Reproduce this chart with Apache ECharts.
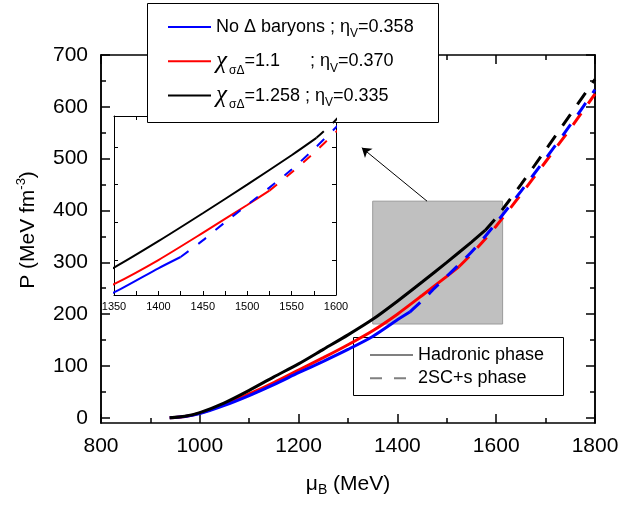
<!DOCTYPE html>
<html><head><meta charset="utf-8">
<script src="https://cdn.jsdelivr.net/npm/echarts@6/dist/echarts.min.js"></script>
<style>html,body{margin:0;padding:0;background:#fff}#c{width:622px;height:508px}</style>
</head><body><div id="c"></div>
<script>
// ---- data: [mu_B (MeV), P (MeV fm^-3)] ----
const noDeltaHadronic = [[939,0],[970,2.5],[1000,8],[1050,24],[1100,43],[1150,64],[1200,87],[1250,109],[1300,132],[1350,157],[1400,189],[1425,204]];
const noDelta2SC = [[1425,204],[1450,226],[1475,250],[1500,273],[1525,296],[1550,320],[1575,347],[1600,376],[1650,437],[1700,500],[1750,565],[1800,633]];
const x11Hadronic = [[939,0],[970,2.5],[1000,9],[1050,26],[1100,46],[1150,68],[1200,92],[1250,116],[1300,141],[1350,168],[1400,200],[1450,236],[1500,273],[1525,292]];
const x112SC = [[1525,292],[1550,316],[1575,342],[1600,370],[1650,431],[1700,494],[1750,558],[1800,625]];
const x1258Hadronic = [[939,0],[970,3],[1000,10],[1050,29],[1100,53],[1150,79],[1200,104],[1250,132],[1300,160],[1350,190],[1400,225],[1450,262],[1500,300],[1550,339],[1578,362]];
const x12582SC = [[1578,362],[1600,386],[1650,450],[1700,517],[1750,585],[1800,653]];

const yMajorTicks = [0,100,200,300,400,500,600,700];
const yMinorTicks = [50,150,250,350,450,550,650];
const insetYTicks = [200,250,300,350];
const zoomBox = [[1350,181],[1613,418]];
const arrowLine = [[1460,418],[1328,521]];

const legendLabels = {
  noDelta: '{t|No Δ baryons ; η}{s|V}{t|=0.358}',
  x11: '{c|χ}{g|σΔ}{t|=1.1      ; η}{s|V}{t|=0.370}',
  x1258: '{c|χ}{g|σΔ}{t|=1.258 ; η}{s|V}{t|=0.335}'
};
const phaseNames = ['Hadronic phase','2SC+s phase'];

const FONT = '"Liberation Sans", Arial, sans-serif';
const models = [
  {key:'x11', color:'#ff0000', had:x11Hadronic, sc:x112SC},
  {key:'noDelta', color:'#0000ff', had:noDeltaHadronic, sc:noDelta2SC},
  {key:'x1258', color:'#000000', had:x1258Hadronic, sc:x12582SC}
];

function lineSeries(name, data, color, dashed, inset) {
  return {
    type:'line', name:name, data:data,
    xAxisIndex: inset ? 2 : 0, yAxisIndex: inset ? 2 : 0,
    symbol:'none', showSymbol:false, smooth:0.25, clip:true, silent:true,
    lineStyle:{color:color, width: inset ? 2 : 3, type: dashed ? (inset ? [10,12] : [14,12]) : 'solid'},
    itemStyle:{color:color}, z:3
  };
}
const series = [];
models.forEach(m => {
  series.push(lineSeries(m.key, m.had, m.color, false, false));
  series.push(lineSeries(m.key, m.sc, m.color, true, false));
});
models.forEach(m => {
  series.push(lineSeries(m.key, m.had, m.color, false, true));
  series.push(lineSeries(m.key, m.sc, m.color, true, true));
});
series.push({type:'line', name:phaseNames[0], data:[], symbol:'none', lineStyle:{color:'#808080', width:3, type:'solid'}, itemStyle:{color:'#808080'}});
series.push({type:'line', name:phaseNames[1], data:[], symbol:'none', lineStyle:{color:'#808080', width:3, type:[12,12]}, itemStyle:{color:'#808080'}});
// zoom box + arrow annotation
series.push({
  type:'line', name:'zoomMarker', data:[zoomBox[0]], symbol:'none', showSymbol:false, z:1, silent:true,
  lineStyle:{opacity:0},
  markArea:{silent:true, itemStyle:{color:'#c0c0c0', borderColor:'#9a9a9a', borderWidth:1},
    data:[[{coord:zoomBox[0]},{coord:zoomBox[1]}]]},
  markLine:{silent:true, symbol:['none','arrow'], symbolSize:9, label:{show:false},
    lineStyle:{color:'#000', width:1, type:'solid'},
    data:[[{coord:arrowLine[0]},{coord:arrowLine[1]}]]}
});

const axisLineStyle = {color:'#000', width:1.5};
const tickStyle = {color:'#000', width:1.5};
const thin = {color:'#000', width:1};
const plain = v => String(v);

const option = {
  animation:false,
  grid:[
    {left:101, right:27, top:55, bottom:85},
    {left:114, top:116, width:222, height:179},
    {left:101, right:27, top:55, bottom:85}
  ],
  xAxis:[
    {type:'value', gridIndex:0, position:'bottom', min:800, max:1800, interval:200,
     axisLine:{onZero:false, lineStyle:axisLineStyle},
     axisTick:{inside:true, length:9, lineStyle:tickStyle},
     minorTick:{show:true, splitNumber:2, length:5, lineStyle:tickStyle},
     splitLine:{show:false}, minorSplitLine:{show:false},
     axisLabel:{color:'#000', fontSize:21, fontFamily:FONT, margin:13, formatter:plain},
     name:'{a|μ}{b|B}{a| (MeV)}', nameLocation:'middle', nameGap:48,
     nameTextStyle:{rich:{
       a:{fontSize:21, fontFamily:FONT, color:'#000', lineHeight:26},
       b:{fontSize:14, fontFamily:FONT, color:'#000', lineHeight:26, padding:[12,0,0,0]}}}},
    {type:'value', gridIndex:0, position:'top', min:800, max:1800, interval:200,
     axisLine:{onZero:false, lineStyle:axisLineStyle},
     axisTick:{inside:true, length:9, lineStyle:tickStyle},
     minorTick:{show:true, splitNumber:2, length:5, lineStyle:tickStyle},
     splitLine:{show:false}, axisLabel:{show:false}},
    {type:'value', gridIndex:1, position:'bottom', min:1350, max:1600, interval:50,
     axisLine:{onZero:false, lineStyle:thin},
     axisTick:{inside:true, length:4, lineStyle:thin},
     minorTick:{show:true, splitNumber:2, length:4, lineStyle:thin},
     splitLine:{show:false}, minorSplitLine:{show:false},
     axisLabel:{color:'#000', fontSize:11, fontFamily:FONT, margin:6, formatter:plain}},
    {type:'value', gridIndex:1, position:'top', min:1350, max:1600, interval:50,
     axisLine:{onZero:false, lineStyle:thin},
     axisTick:{inside:true, length:4, lineStyle:thin},
     minorTick:{show:true, splitNumber:2, length:4, lineStyle:thin},
     splitLine:{show:false}, axisLabel:{show:false}},
    {type:'value', gridIndex:2, min:800, max:1800, show:false}
  ],
  yAxis:[
    {type:'value', gridIndex:0, position:'left', min:-10, max:700,
     axisLine:{show:true, onZero:false, lineStyle:axisLineStyle},
     axisTick:{inside:true, length:9, lineStyle:tickStyle, customValues:yMajorTicks},
     splitLine:{show:false},
     axisLabel:{color:'#000', fontSize:21, fontFamily:FONT, margin:13, customValues:yMajorTicks, formatter:plain},
     name:'{a|P (MeV fm}{p|-3}{a|)}', nameLocation:'middle', nameGap:58,
     nameTextStyle:{padding:[0,0,0,18], rich:{
       a:{fontSize:21, fontFamily:FONT, color:'#000', lineHeight:26},
       p:{fontSize:13, fontFamily:FONT, color:'#000', lineHeight:26, padding:[0,0,14,0]}}}},
    {type:'value', gridIndex:0, position:'right', min:-10, max:700,
     axisLine:{show:true, onZero:false, lineStyle:axisLineStyle},
     axisTick:{inside:true, length:9, lineStyle:tickStyle, customValues:yMajorTicks},
     splitLine:{show:false}, axisLabel:{show:false}},
    {type:'value', gridIndex:1, position:'left', min:153.6, max:391,
     axisLine:{show:true, onZero:false, lineStyle:thin},
     axisTick:{inside:true, length:4, lineStyle:thin, customValues:insetYTicks},
     splitLine:{show:false}, axisLabel:{show:false}},
    {type:'value', gridIndex:1, position:'right', min:153.6, max:391,
     axisLine:{show:true, onZero:false, lineStyle:thin},
     axisTick:{inside:true, length:4, lineStyle:thin, customValues:insetYTicks},
     splitLine:{show:false}, axisLabel:{show:false}},
    {type:'value', gridIndex:2, position:'left', min:-10, max:700,
     axisLine:{show:true, onZero:false, lineStyle:axisLineStyle},
     axisTick:{show:true, inside:true, length:5, lineStyle:tickStyle, customValues:yMinorTicks},
     splitLine:{show:false}, axisLabel:{show:false}},
    {type:'value', gridIndex:2, position:'right', min:-10, max:700,
     axisLine:{show:true, onZero:false, lineStyle:axisLineStyle},
     axisTick:{show:true, inside:true, length:5, lineStyle:tickStyle, customValues:yMinorTicks},
     splitLine:{show:false}, axisLabel:{show:false}}
  ],
  legend:[
    {data:['noDelta','x11','x1258'], orient:'vertical', left:167, top:10, padding:0,
     itemWidth:43, itemHeight:14, itemGap:0.3, selectedMode:false,
     itemStyle:{opacity:0},
     formatter: n => legendLabels[n],
     textStyle:{color:'#000', lineHeight:34, rich:{
       t:{fontSize:18, fontFamily:FONT, color:'#000', lineHeight:34},
       s:{fontSize:12, fontFamily:FONT, color:'#000', lineHeight:34, padding:[14,0,0,0]},
       g:{fontSize:12, fontFamily:FONT, color:'#000', lineHeight:34, padding:[18,0,0,0]},
       c:{fontSize:25, fontFamily:'"Liberation Serif", serif', fontStyle:'italic', color:'#000', lineHeight:34, width:13}
     }}},
    {data:phaseNames, orient:'vertical', left:369, top:345, padding:0,
     itemWidth:43, itemHeight:14, itemGap:3.3, selectedMode:false,
     itemStyle:{opacity:0},
     textStyle:{color:'#000', fontSize:18, fontFamily:FONT, lineHeight:20}}
  ],
  graphic:[
    {type:'rect', z:3, shape:{x:147.5, y:3.5, width:291, height:119}, style:{fill:'#fff', stroke:'#000', lineWidth:1}},
    {type:'rect', z:3, shape:{x:353.5, y:337.5, width:210, height:58}, style:{fill:'#fff', stroke:'#000', lineWidth:1}}
  ],
  series: series
};
const chart = echarts.init(document.getElementById('c'), null, {renderer:'canvas', width:622, height:508});
chart.setOption(option);
</script>
</body></html>
